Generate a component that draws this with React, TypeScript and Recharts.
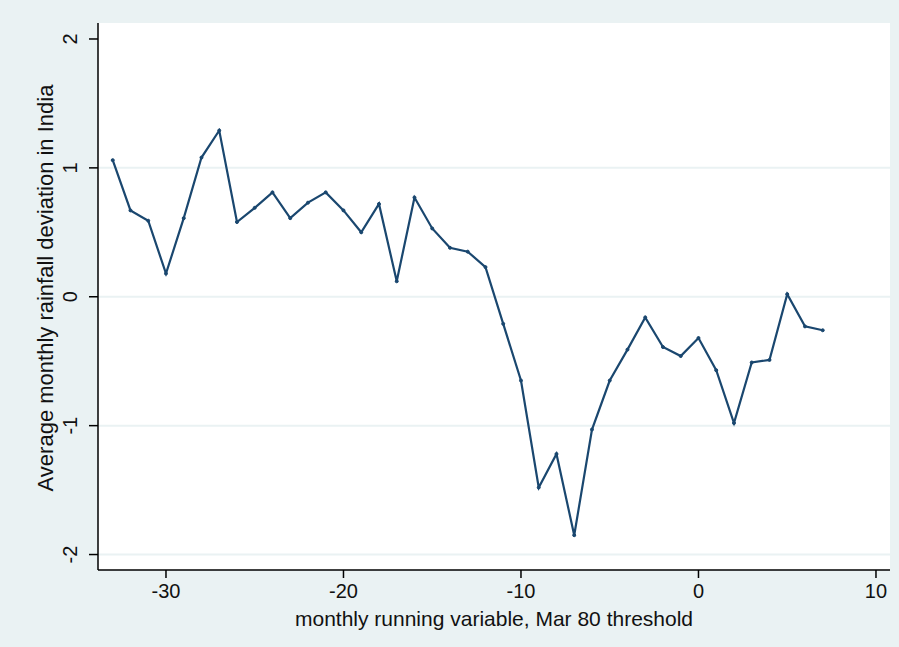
import { CartesianGrid, Line, LineChart, ReferenceLine, XAxis, YAxis } from "recharts";

const months = [
  -33, -32, -31, -30, -29, -28, -27, -26, -25, -24, -23, -22, -21, -20, -19, -18, -17, -16, -15, -14, -13,
  -12, -11, -10, -9, -8, -7, -6, -5, -4, -3, -2, -1, 0, 1, 2, 3, 4, 5, 6, 7,
];
const rainfall = [
  1.06, 0.67, 0.59, 0.18, 0.61, 1.08, 1.29, 0.58, 0.69, 0.81, 0.61, 0.73, 0.81, 0.67, 0.5, 0.72, 0.12, 0.77,
  0.53, 0.38, 0.35, 0.23, -0.21, -0.65, -1.48, -1.22, -1.85, -1.03, -0.65, -0.41, -0.16, -0.39, -0.46, -0.32,
  -0.57, -0.98, -0.51, -0.49, 0.02, -0.23, -0.26,
];
const xTicks = [-30, -20, -10, 0, 10];
const yTicks = [-2, -1, 0, 1, 2];
const gridValues = [-2, -1, 0, 1];

const data = months.map((m, i) => ({ month: m, value: rainfall[i] }));

const FONT = "'Liberation Sans', Arial, Helvetica, sans-serif";
const BG = "#EAF2F3";
const NAVY = "#1A476F";

const XTick = (props: any) => {
  const { x, y, payload } = props;
  return (
    <text x={x} y={y} dy={18} textAnchor="middle" fontFamily={FONT} fontSize={20} fill="#111">
      {payload.value}
    </text>
  );
};

const YTick = (props: any) => {
  const { x, y, payload } = props;
  const bx = x - 10;
  return (
    <text x={bx} y={y} textAnchor="middle" transform={`rotate(-90 ${bx} ${y})`} fontFamily={FONT} fontSize={20} fill="#111">
      {payload.value}
    </text>
  );
};

export default function App() {
  return (
    <div style={{ position: "absolute", left: 0, top: 0, width: 899, height: 647, background: BG }}>
      <LineChart width={899} height={647} data={data} margin={{ top: 23, right: 9, bottom: 17, left: 0 }}>
        <CartesianGrid fill="#ffffff" horizontal={false} vertical={false} />
        {gridValues.map((v) => (
          <ReferenceLine key={v} y={v} stroke={BG} strokeWidth={2} />
        ))}
        <XAxis
          dataKey="month"
          type="number"
          domain={[-33.83, 10.79]}
          ticks={xTicks}
          allowDataOverflow
          height={60}
          tickSize={8}
          tickMargin={2}
          tick={XTick}
          axisLine={{ stroke: "#000", strokeWidth: 1.5 }}
          tickLine={{ stroke: "#000", strokeWidth: 1.5 }}
          label={() => (
            <text x={494} y={626} textAnchor="middle" fontFamily={FONT} fontSize={21} fill="#111">
              monthly running variable, Mar 80 threshold
            </text>
          )}
        />
        <YAxis
          type="number"
          domain={[-2.12, 2.124]}
          ticks={yTicks}
          allowDataOverflow
          width={98}
          tickSize={9}
          tickMargin={2}
          tick={YTick}
          axisLine={{ stroke: "#000", strokeWidth: 1.5 }}
          tickLine={{ stroke: "#000", strokeWidth: 1.5 }}
          label={() => (
            <text
              x={53}
              y={288}
              textAnchor="middle"
              transform="rotate(-90 53 288)"
              fontFamily={FONT}
              fontSize={22}
              fill="#111"
            >
              Average monthly rainfall deviation in India
            </text>
          )}
        />
        <Line
          type="linear"
          dataKey="value"
          stroke={NAVY}
          strokeWidth={2.2}
          dot={{ r: 1.5, fill: NAVY, stroke: NAVY, strokeWidth: 1 }}
          activeDot={false}
          isAnimationActive={false}
        />
      </LineChart>
    </div>
  );
}
